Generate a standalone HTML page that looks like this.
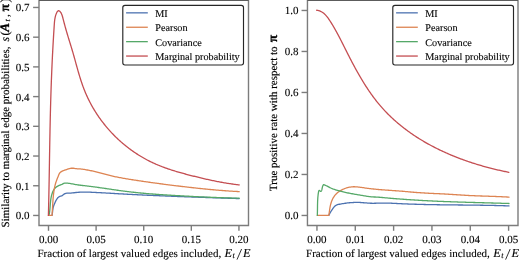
<!DOCTYPE html>
<html><head><meta charset="utf-8"><style>
html,body{margin:0;padding:0;background:#fff;overflow:hidden;}
svg{display:block;}
text{will-change:transform;stroke:#000;stroke-width:0.12px;text-rendering:geometricPrecision;}
.rot text{stroke-width:0.16px;will-change:auto;}
.rot text.bm{stroke-width:0.3px;}
.rot{filter:grayscale(1);}
</style></head><body>
<svg width="520" height="260" viewBox="0 0 520 260" font-family="Liberation Serif, serif" font-size="11" fill="#000">
<rect width="520" height="260" fill="#fff"/>
<g fill="none" stroke="#7c7c7c" stroke-width="1.4">
<path d="M39.0,0.4 H248.5 V225.5 H39.0 Z"/>
<path d="M307.45,0.4 H518.0 V225.5 H307.45 Z"/>
<path d="M39.0,0.4 H248.5 M307.45,0.4 H518.0" stroke="#5c5c5c" stroke-width="1.2"/>
<line x1="33.10" y1="215.46" x2="39.00" y2="215.46"/><line x1="33.10" y1="185.75" x2="39.00" y2="185.75"/><line x1="33.10" y1="156.03" x2="39.00" y2="156.03"/><line x1="33.10" y1="126.32" x2="39.00" y2="126.32"/><line x1="33.10" y1="96.60" x2="39.00" y2="96.60"/><line x1="33.10" y1="66.89" x2="39.00" y2="66.89"/><line x1="33.10" y1="37.18" x2="39.00" y2="37.18"/><line x1="33.10" y1="7.46" x2="39.00" y2="7.46"/><line x1="48.50" y1="225.50" x2="48.50" y2="230.80"/><line x1="96.11" y1="225.50" x2="96.11" y2="230.80"/><line x1="143.72" y1="225.50" x2="143.72" y2="230.80"/><line x1="191.33" y1="225.50" x2="191.33" y2="230.80"/><line x1="238.94" y1="225.50" x2="238.94" y2="230.80"/>
<line x1="301.55" y1="215.46" x2="307.45" y2="215.46"/><line x1="301.55" y1="174.46" x2="307.45" y2="174.46"/><line x1="301.55" y1="133.46" x2="307.45" y2="133.46"/><line x1="301.55" y1="92.46" x2="307.45" y2="92.46"/><line x1="301.55" y1="51.46" x2="307.45" y2="51.46"/><line x1="301.55" y1="10.46" x2="307.45" y2="10.46"/><line x1="316.95" y1="225.50" x2="316.95" y2="230.80"/><line x1="355.28" y1="225.50" x2="355.28" y2="230.80"/><line x1="393.61" y1="225.50" x2="393.61" y2="230.80"/><line x1="431.94" y1="225.50" x2="431.94" y2="230.80"/><line x1="470.27" y1="225.50" x2="470.27" y2="230.80"/><line x1="508.60" y1="225.50" x2="508.60" y2="230.80"/>
</g>
<g>
<text x="29.50" y="219.36" text-anchor="end">0.0</text><text x="29.50" y="189.65" text-anchor="end">0.1</text><text x="29.50" y="159.93" text-anchor="end">0.2</text><text x="29.50" y="130.22" text-anchor="end">0.3</text><text x="29.50" y="100.50" text-anchor="end">0.4</text><text x="29.50" y="70.79" text-anchor="end">0.5</text><text x="29.50" y="41.08" text-anchor="end">0.6</text><text x="29.50" y="11.36" text-anchor="end">0.7</text><text x="48.50" y="242.60" text-anchor="middle">0.00</text><text x="96.11" y="242.60" text-anchor="middle">0.05</text><text x="143.72" y="242.60" text-anchor="middle">0.10</text><text x="191.33" y="242.60" text-anchor="middle">0.15</text><text x="238.94" y="242.60" text-anchor="middle">0.20</text>
<text x="298.40" y="219.36" text-anchor="end">0.0</text><text x="298.40" y="178.36" text-anchor="end">0.2</text><text x="298.40" y="137.36" text-anchor="end">0.4</text><text x="298.40" y="96.36" text-anchor="end">0.6</text><text x="298.40" y="55.36" text-anchor="end">0.8</text><text x="298.40" y="14.36" text-anchor="end">1.0</text><text x="316.95" y="242.60" text-anchor="middle">0.00</text><text x="355.28" y="242.60" text-anchor="middle">0.01</text><text x="393.61" y="242.60" text-anchor="middle">0.02</text><text x="431.94" y="242.60" text-anchor="middle">0.03</text><text x="470.27" y="242.60" text-anchor="middle">0.04</text><text x="508.60" y="242.60" text-anchor="middle">0.05</text>
<text x="37.50" y="257.2">Fraction of largest valued edges included,</text><text x="224.60" y="257.1" font-style="italic" font-size="12.3">E</text><text x="232.60" y="258.3" font-style="italic" font-size="8.3">t</text><line x1="241.60" y1="249.0" x2="237.00" y2="259.6" stroke="#000" stroke-width="0.8"/><text x="242.90" y="257.1" font-style="italic" font-size="12.3">E</text><text x="306.10" y="257.2">Fraction of largest valued edges included,</text><text x="493.20" y="257.1" font-style="italic" font-size="12.3">E</text><text x="501.20" y="258.3" font-style="italic" font-size="8.3">t</text><line x1="510.20" y1="249.0" x2="505.60" y2="259.6" stroke="#000" stroke-width="0.8"/><text x="511.50" y="257.1" font-style="italic" font-size="12.3">E</text>
<g transform="translate(8.5,0) rotate(-90)" class="rot"><text x="-227.4" y="0">Similarity to marginal edge probabilities,</text><text x="-41.6" y="0" font-style="italic" font-size="11.8">s</text><text x="-35.6" y="0.4" font-size="12.5">(</text><text x="-31.7" y="0" class="bm" font-weight="bold" font-style="italic" font-size="13.2">A</text><text x="-21.4" y="1.8" font-style="italic" font-size="8">t</text><text x="-17.0" y="0">,</text><text x="-11.4" y="0" class="bm" font-weight="bold" font-size="13.5">π</text><text x="-2.6" y="0.4" font-size="12.5">)</text></g>
<g transform="translate(277.1,0) rotate(-90)" class="rot"><text x="-191.1" y="0">True positive rate with respect to</text><text x="-42.3" y="0" class="bm" font-weight="bold" font-size="13.5">π</text></g>
</g>
<path d="M52.00,215.40 L52.20,214.43 L52.36,213.44 L52.48,212.43 L52.59,211.41 L52.70,210.39 L52.83,209.37 L53.00,208.37 L53.21,207.40 L53.48,206.44 L53.80,205.51 L54.16,204.59 L54.55,203.67 L54.96,202.75 L55.38,201.81 L55.82,200.88 L56.30,199.97 L56.82,199.10 L57.41,198.29 L58.08,197.56 L58.85,196.94 L59.71,196.46 L60.68,196.14 L61.65,195.83 L62.52,195.33 L63.31,194.70 L64.11,194.07 L64.97,193.58 L65.92,193.31 L66.94,193.21 L67.98,193.19 L69.01,193.16 L70.02,193.11 L71.02,193.04 L72.02,192.96 L73.01,192.86 L74.01,192.75 L75.01,192.64 L76.01,192.52 L77.02,192.41 L78.02,192.31 L79.03,192.23 L80.04,192.17 L81.04,192.12 L82.05,192.09 L83.06,192.08 L84.07,192.08 L85.07,192.09 L86.08,192.11 L87.09,192.13 L88.10,192.16 L89.10,192.19 L90.11,192.22 L91.12,192.26 L92.13,192.30 L93.13,192.34 L94.14,192.39 L95.15,192.43 L96.16,192.48 L97.16,192.53 L98.17,192.58 L99.18,192.63 L100.18,192.69 L101.19,192.74 L102.20,192.80 L103.20,192.86 L104.21,192.91 L105.22,192.97 L106.22,193.03 L107.23,193.09 L108.24,193.15 L109.24,193.21 L110.25,193.27 L111.26,193.33 L112.26,193.39 L113.27,193.45 L114.28,193.51 L115.28,193.57 L116.29,193.63 L117.30,193.68 L118.30,193.74 L119.31,193.80 L120.32,193.85 L121.32,193.91 L122.33,193.96 L123.34,194.02 L124.34,194.07 L125.35,194.13 L126.36,194.18 L127.37,194.24 L128.37,194.29 L129.38,194.34 L130.39,194.39 L131.39,194.45 L132.40,194.50 L133.41,194.55 L134.41,194.60 L135.42,194.65 L136.43,194.70 L137.43,194.75 L138.44,194.80 L139.45,194.85 L140.46,194.90 L141.46,194.94 L142.47,194.99 L143.48,195.04 L144.48,195.09 L145.49,195.13 L146.50,195.18 L147.51,195.23 L148.51,195.27 L149.52,195.32 L150.53,195.36 L151.53,195.41 L152.54,195.45 L153.55,195.50 L154.56,195.54 L155.56,195.58 L156.57,195.63 L157.58,195.67 L158.59,195.71 L159.59,195.76 L160.60,195.80 L161.61,195.84 L162.61,195.88 L163.62,195.92 L164.63,195.96 L165.64,196.01 L166.64,196.05 L167.65,196.09 L168.66,196.13 L169.67,196.17 L170.67,196.21 L171.68,196.25 L172.69,196.29 L173.70,196.33 L174.71,196.36 L175.71,196.40 L176.72,196.44 L177.73,196.48 L178.74,196.52 L179.74,196.56 L180.75,196.59 L181.76,196.63 L182.77,196.67 L183.77,196.71 L184.78,196.74 L185.79,196.78 L186.80,196.82 L187.80,196.85 L188.81,196.89 L189.82,196.92 L190.83,196.96 L191.84,197.00 L192.84,197.03 L193.85,197.07 L194.86,197.10 L195.87,197.14 L196.87,197.17 L197.88,197.21 L198.89,197.24 L199.90,197.28 L200.91,197.31 L201.91,197.35 L202.92,197.38 L203.93,197.42 L204.94,197.45 L205.94,197.49 L206.95,197.52 L207.96,197.56 L208.97,197.59 L209.98,197.62 L210.98,197.66 L211.99,197.69 L213.00,197.73 L214.01,197.76 L215.01,197.79 L216.02,197.83 L217.03,197.86 L218.04,197.89 L219.05,197.93 L220.05,197.96 L221.06,197.99 L222.07,198.03 L223.08,198.06 L224.08,198.10 L225.09,198.13 L226.10,198.16 L227.11,198.20 L228.12,198.23 L229.12,198.26 L230.13,198.30 L231.14,198.33 L232.15,198.36 L233.15,198.40 L234.16,198.43 L235.17,198.46 L236.18,198.50 L237.18,198.53 L238.19,198.57 L239.20,198.60" fill="none" stroke="#4C72B0" stroke-width="1.3" stroke-linejoin="round" stroke-linecap="round"/><path d="M49.00,215.40 L49.20,214.41 L49.38,213.42 L49.54,212.43 L49.67,211.43 L49.79,210.42 L49.89,209.42 L49.98,208.42 L50.06,207.41 L50.14,206.40 L50.22,205.39 L50.29,204.39 L50.38,203.38 L50.47,202.38 L50.57,201.37 L50.68,200.37 L50.81,199.38 L50.96,198.39 L51.14,197.40 L51.34,196.42 L51.57,195.44 L51.84,194.47 L52.14,193.50 L52.48,192.54 L52.86,191.60 L53.29,190.68 L53.79,189.80 L54.34,188.97 L54.97,188.20 L55.68,187.50 L56.46,186.88 L57.33,186.35 L58.24,185.88 L59.18,185.47 L60.11,185.09 L61.03,184.72 L61.94,184.31 L62.83,183.86 L63.73,183.43 L64.68,183.17 L65.68,183.08 L66.69,183.11 L67.71,183.18 L68.71,183.29 L69.71,183.44 L70.71,183.60 L71.69,183.79 L72.68,183.98 L73.67,184.18 L74.65,184.37 L75.64,184.55 L76.63,184.71 L77.63,184.86 L78.62,185.00 L79.62,185.13 L80.62,185.25 L81.62,185.37 L82.62,185.48 L83.63,185.59 L84.63,185.70 L85.63,185.81 L86.63,185.93 L87.63,186.05 L88.63,186.17 L89.63,186.29 L90.63,186.42 L91.63,186.54 L92.63,186.67 L93.63,186.81 L94.63,186.94 L95.63,187.08 L96.63,187.21 L97.63,187.35 L98.63,187.49 L99.62,187.63 L100.62,187.78 L101.62,187.92 L102.62,188.06 L103.61,188.21 L104.61,188.35 L105.61,188.50 L106.61,188.65 L107.60,188.79 L108.60,188.94 L109.60,189.08 L110.59,189.23 L111.59,189.38 L112.59,189.52 L113.59,189.67 L114.58,189.81 L115.58,189.95 L116.58,190.10 L117.58,190.24 L118.57,190.38 L119.57,190.52 L120.57,190.65 L121.57,190.79 L122.57,190.92 L123.57,191.06 L124.57,191.19 L125.56,191.32 L126.56,191.44 L127.56,191.56 L128.56,191.69 L129.56,191.81 L130.56,191.92 L131.57,192.04 L132.57,192.15 L133.57,192.26 L134.57,192.37 L135.57,192.48 L136.57,192.58 L137.58,192.68 L138.58,192.78 L139.58,192.88 L140.58,192.98 L141.59,193.07 L142.59,193.17 L143.59,193.26 L144.60,193.35 L145.60,193.44 L146.61,193.53 L147.61,193.61 L148.61,193.70 L149.62,193.78 L150.62,193.86 L151.63,193.94 L152.63,194.02 L153.64,194.09 L154.64,194.17 L155.65,194.25 L156.65,194.32 L157.66,194.39 L158.67,194.46 L159.67,194.53 L160.68,194.60 L161.68,194.67 L162.69,194.74 L163.70,194.80 L164.70,194.87 L165.71,194.93 L166.71,195.00 L167.72,195.06 L168.73,195.12 L169.73,195.18 L170.74,195.25 L171.74,195.31 L172.75,195.37 L173.76,195.43 L174.76,195.48 L175.77,195.54 L176.78,195.60 L177.78,195.66 L178.79,195.72 L179.80,195.77 L180.80,195.83 L181.81,195.89 L182.81,195.94 L183.82,196.00 L184.83,196.05 L185.83,196.11 L186.84,196.16 L187.85,196.22 L188.85,196.27 L189.86,196.32 L190.86,196.37 L191.87,196.43 L192.88,196.48 L193.88,196.53 L194.89,196.58 L195.90,196.63 L196.90,196.68 L197.91,196.73 L198.91,196.78 L199.92,196.82 L200.93,196.87 L201.93,196.92 L202.94,196.96 L203.95,197.01 L204.95,197.05 L205.96,197.10 L206.97,197.14 L207.97,197.19 L208.98,197.23 L209.99,197.27 L210.99,197.31 L212.00,197.35 L213.01,197.39 L214.01,197.43 L215.02,197.47 L216.03,197.51 L217.03,197.55 L218.04,197.59 L219.05,197.62 L220.05,197.66 L221.06,197.69 L222.07,197.73 L223.08,197.76 L224.08,197.79 L225.09,197.83 L226.10,197.86 L227.11,197.89 L228.11,197.92 L229.12,197.95 L230.13,197.98 L231.14,198.00 L232.14,198.03 L233.15,198.06 L234.16,198.08 L235.17,198.11 L236.18,198.13 L237.18,198.16 L238.19,198.18 L239.20,198.20" fill="none" stroke="#55A868" stroke-width="1.3" stroke-linejoin="round" stroke-linecap="round"/><path d="M48.40,215.40 L52.00,215.40 L52.09,214.40 L52.17,213.40 L52.24,212.40 L52.31,211.40 L52.37,210.39 L52.43,209.39 L52.49,208.39 L52.55,207.38 L52.61,206.38 L52.66,205.38 L52.72,204.37 L52.78,203.37 L52.84,202.37 L52.90,201.36 L52.97,200.36 L53.05,199.36 L53.12,198.36 L53.21,197.36 L53.30,196.36 L53.40,195.36 L53.51,194.36 L53.63,193.36 L53.76,192.36 L53.90,191.37 L54.05,190.38 L54.22,189.39 L54.40,188.40 L54.59,187.41 L54.81,186.43 L55.04,185.45 L55.28,184.48 L55.55,183.51 L55.84,182.56 L56.15,181.60 L56.48,180.66 L56.83,179.73 L57.20,178.79 L57.58,177.86 L57.96,176.92 L58.33,175.96 L58.70,174.99 L59.10,174.05 L59.60,173.20 L60.22,172.47 L60.96,171.86 L61.79,171.34 L62.70,170.90 L63.65,170.52 L64.62,170.17 L65.59,169.84 L66.55,169.52 L67.51,169.19 L68.46,168.87 L69.42,168.57 L70.39,168.34 L71.36,168.23 L72.35,168.21 L73.34,168.27 L74.34,168.38 L75.35,168.53 L76.35,168.67 L77.35,168.80 L78.35,168.89 L79.35,168.93 L80.34,168.97 L81.33,169.04 L82.32,169.16 L83.31,169.31 L84.30,169.48 L85.29,169.65 L86.28,169.82 L87.27,169.99 L88.26,170.17 L89.25,170.36 L90.24,170.55 L91.22,170.74 L92.21,170.95 L93.19,171.17 L94.17,171.39 L95.14,171.63 L96.12,171.87 L97.09,172.12 L98.06,172.38 L99.03,172.64 L100.00,172.91 L100.97,173.17 L101.94,173.44 L102.91,173.71 L103.88,173.97 L104.85,174.23 L105.82,174.49 L106.79,174.74 L107.76,174.99 L108.74,175.23 L109.72,175.46 L110.69,175.69 L111.67,175.92 L112.65,176.14 L113.63,176.35 L114.61,176.56 L115.59,176.77 L116.58,176.97 L117.56,177.16 L118.55,177.36 L119.53,177.55 L120.52,177.73 L121.51,177.92 L122.50,178.10 L123.49,178.27 L124.47,178.44 L125.46,178.62 L126.45,178.78 L127.45,178.95 L128.44,179.11 L129.43,179.27 L130.42,179.43 L131.41,179.59 L132.41,179.75 L133.40,179.90 L134.39,180.05 L135.39,180.21 L136.38,180.36 L137.37,180.51 L138.37,180.66 L139.36,180.81 L140.35,180.95 L141.35,181.10 L142.34,181.25 L143.34,181.39 L144.33,181.54 L145.33,181.68 L146.32,181.83 L147.31,181.97 L148.31,182.11 L149.30,182.25 L150.30,182.39 L151.29,182.53 L152.29,182.67 L153.28,182.81 L154.28,182.94 L155.27,183.08 L156.27,183.22 L157.26,183.35 L158.26,183.48 L159.26,183.62 L160.25,183.75 L161.25,183.88 L162.24,184.01 L163.24,184.14 L164.23,184.27 L165.23,184.40 L166.23,184.53 L167.22,184.66 L168.22,184.79 L169.22,184.91 L170.21,185.04 L171.21,185.16 L172.21,185.29 L173.20,185.41 L174.20,185.53 L175.20,185.65 L176.19,185.78 L177.19,185.90 L178.19,186.02 L179.18,186.14 L180.18,186.26 L181.18,186.37 L182.18,186.49 L183.18,186.61 L184.17,186.72 L185.17,186.84 L186.17,186.95 L187.17,187.07 L188.16,187.18 L189.16,187.29 L190.16,187.41 L191.16,187.52 L192.16,187.63 L193.16,187.74 L194.16,187.85 L195.15,187.96 L196.15,188.07 L197.15,188.17 L198.15,188.28 L199.15,188.39 L200.15,188.49 L201.15,188.60 L202.15,188.70 L203.15,188.80 L204.15,188.90 L205.15,189.00 L206.15,189.10 L207.15,189.20 L208.15,189.30 L209.15,189.39 L210.15,189.49 L211.15,189.58 L212.15,189.67 L213.15,189.76 L214.15,189.85 L215.15,189.94 L216.15,190.03 L217.15,190.11 L218.15,190.20 L219.15,190.28 L220.15,190.36 L221.16,190.44 L222.16,190.52 L223.16,190.60 L224.16,190.67 L225.16,190.75 L226.16,190.82 L227.17,190.89 L228.17,190.96 L229.17,191.03 L230.17,191.09 L231.18,191.16 L232.18,191.22 L233.18,191.28 L234.18,191.34 L235.19,191.39 L236.19,191.45 L237.19,191.50 L238.20,191.55 L239.20,191.60" fill="none" stroke="#DD8452" stroke-width="1.3" stroke-linejoin="round" stroke-linecap="round"/><path d="M48.40,215.40 L48.43,214.40 L48.45,213.40 L48.48,212.39 L48.50,211.39 L48.53,210.39 L48.55,209.39 L48.58,208.38 L48.60,207.38 L48.62,206.38 L48.65,205.38 L48.67,204.37 L48.69,203.37 L48.71,202.37 L48.74,201.37 L48.76,200.37 L48.78,199.36 L48.80,198.36 L48.82,197.36 L48.84,196.36 L48.86,195.36 L48.88,194.35 L48.90,193.35 L48.92,192.35 L48.94,191.35 L48.96,190.35 L48.98,189.34 L49.00,188.34 L49.02,187.34 L49.04,186.34 L49.06,185.34 L49.07,184.33 L49.09,183.33 L49.11,182.33 L49.13,181.33 L49.15,180.33 L49.16,179.32 L49.18,178.32 L49.20,177.32 L49.22,176.32 L49.23,175.32 L49.25,174.31 L49.27,173.31 L49.29,172.31 L49.30,171.31 L49.32,170.31 L49.34,169.30 L49.35,168.30 L49.37,167.30 L49.39,166.30 L49.40,165.30 L49.42,164.29 L49.44,163.29 L49.45,162.29 L49.47,161.29 L49.49,160.29 L49.50,159.29 L49.52,158.28 L49.53,157.28 L49.55,156.28 L49.57,155.28 L49.58,154.28 L49.60,153.27 L49.62,152.27 L49.64,151.27 L49.65,150.27 L49.67,149.27 L49.69,148.26 L49.70,147.26 L49.72,146.26 L49.74,145.26 L49.76,144.26 L49.77,143.26 L49.79,142.25 L49.81,141.25 L49.83,140.25 L49.84,139.25 L49.86,138.25 L49.88,137.24 L49.90,136.24 L49.92,135.24 L49.94,134.24 L49.96,133.24 L49.98,132.23 L49.99,131.23 L50.01,130.23 L50.03,129.23 L50.05,128.23 L50.07,127.23 L50.10,126.22 L50.12,125.22 L50.14,124.22 L50.16,123.22 L50.18,122.22 L50.20,121.21 L50.22,120.21 L50.25,119.21 L50.27,118.21 L50.29,117.21 L50.31,116.20 L50.34,115.20 L50.36,114.20 L50.39,113.20 L50.41,112.20 L50.43,111.19 L50.46,110.19 L50.49,109.19 L50.51,108.19 L50.54,107.18 L50.56,106.18 L50.59,105.18 L50.62,104.18 L50.65,103.18 L50.67,102.17 L50.70,101.17 L50.73,100.17 L50.76,99.17 L50.79,98.16 L50.82,97.16 L50.85,96.16 L50.88,95.16 L50.91,94.16 L50.94,93.15 L50.98,92.15 L51.01,91.15 L51.04,90.15 L51.08,89.14 L51.11,88.14 L51.14,87.14 L51.18,86.14 L51.22,85.13 L51.25,84.13 L51.29,83.13 L51.32,82.13 L51.36,81.12 L51.40,80.12 L51.44,79.12 L51.48,78.12 L51.52,77.12 L51.56,76.11 L51.60,75.11 L51.64,74.11 L51.68,73.11 L51.72,72.11 L51.76,71.10 L51.81,70.10 L51.85,69.10 L51.89,68.10 L51.94,67.10 L51.98,66.10 L52.03,65.10 L52.07,64.09 L52.12,63.09 L52.16,62.09 L52.21,61.09 L52.26,60.09 L52.31,59.09 L52.36,58.09 L52.41,57.09 L52.45,56.09 L52.50,55.09 L52.55,54.09 L52.61,53.09 L52.66,52.10 L52.71,51.10 L52.76,50.10 L52.81,49.10 L52.87,48.10 L52.92,47.10 L52.98,46.11 L53.03,45.11 L53.09,44.11 L53.14,43.11 L53.20,42.11 L53.26,41.12 L53.31,40.12 L53.37,39.12 L53.43,38.12 L53.49,37.12 L53.55,36.12 L53.61,35.12 L53.67,34.12 L53.73,33.12 L53.80,32.11 L53.86,31.11 L53.92,30.11 L53.99,29.10 L54.06,28.10 L54.12,27.09 L54.19,26.08 L54.26,25.07 L54.33,24.06 L54.40,23.05 L54.48,22.05 L54.58,21.04 L54.70,20.03 L54.84,19.03 L55.01,18.04 L55.21,17.05 L55.45,16.07 L55.74,15.10 L56.08,14.13 L56.47,13.18 L56.92,12.25 L57.44,11.43 L58.02,10.87 L58.68,10.72 L59.38,10.99 L60.08,11.57 L60.70,12.34 L61.23,13.21 L61.68,14.16 L62.06,15.17 L62.39,16.22 L62.69,17.27 L62.96,18.32 L63.23,19.34 L63.49,20.34 L63.75,21.33 L64.00,22.30 L64.25,23.27 L64.50,24.23 L64.75,25.18 L65.01,26.13 L65.27,27.09 L65.54,28.04 L65.81,28.99 L66.08,29.95 L66.36,30.90 L66.63,31.85 L66.91,32.80 L67.20,33.76 L67.48,34.71 L67.77,35.66 L68.06,36.62 L68.35,37.57 L68.64,38.52 L68.93,39.48 L69.23,40.43 L69.52,41.38 L69.81,42.34 L70.11,43.29 L70.40,44.25 L70.69,45.21 L70.99,46.16 L71.28,47.12 L71.57,48.08 L71.86,49.04 L72.15,50.00 L72.43,50.97 L72.72,51.93 L73.00,52.89 L73.28,53.86 L73.55,54.82 L73.83,55.79 L74.10,56.76 L74.37,57.73 L74.64,58.70 L74.91,59.67 L75.18,60.64 L75.45,61.61 L75.72,62.58 L75.98,63.55 L76.25,64.52 L76.52,65.49 L76.79,66.46 L77.06,67.43 L77.33,68.40 L77.61,69.37 L77.88,70.34 L78.16,71.31 L78.44,72.28 L78.72,73.24 L79.00,74.21 L79.29,75.17 L79.58,76.14 L79.87,77.10 L80.17,78.06 L80.47,79.02 L80.78,79.97 L81.09,80.93 L81.40,81.88 L81.72,82.83 L82.05,83.78 L82.38,84.73 L82.71,85.67 L83.05,86.61 L83.40,87.55 L83.76,88.49 L84.12,89.43 L84.49,90.36 L84.86,91.28 L85.25,92.21 L85.63,93.13 L86.03,94.05 L86.44,94.97 L86.85,95.88 L87.26,96.79 L87.69,97.70 L88.12,98.60 L88.56,99.50 L89.00,100.40 L89.45,101.29 L89.91,102.18 L90.38,103.07 L90.85,103.95 L91.33,104.83 L91.81,105.71 L92.30,106.58 L92.80,107.45 L93.30,108.32 L93.81,109.18 L94.33,110.04 L94.85,110.89 L95.38,111.74 L95.92,112.59 L96.46,113.43 L97.01,114.27 L97.56,115.10 L98.12,115.93 L98.69,116.76 L99.26,117.58 L99.84,118.40 L100.42,119.21 L101.01,120.02 L101.61,120.82 L102.21,121.62 L102.82,122.42 L103.43,123.21 L104.05,124.00 L104.68,124.78 L105.31,125.56 L105.94,126.34 L106.58,127.10 L107.23,127.87 L107.88,128.63 L108.54,129.38 L109.21,130.13 L109.87,130.88 L110.55,131.62 L111.23,132.36 L111.91,133.09 L112.60,133.81 L113.30,134.53 L114.00,135.25 L114.71,135.96 L115.42,136.67 L116.13,137.37 L116.85,138.06 L117.58,138.75 L118.31,139.43 L119.05,140.11 L119.79,140.79 L120.53,141.46 L121.28,142.12 L122.04,142.78 L122.80,143.43 L123.56,144.07 L124.33,144.71 L125.11,145.35 L125.89,145.98 L126.67,146.60 L127.46,147.22 L128.25,147.83 L129.05,148.44 L129.85,149.04 L130.65,149.63 L131.46,150.22 L132.28,150.80 L133.09,151.38 L133.92,151.95 L134.74,152.51 L135.57,153.07 L136.41,153.62 L137.25,154.16 L138.09,154.70 L138.94,155.23 L139.79,155.76 L140.64,156.28 L141.50,156.79 L142.37,157.30 L143.23,157.80 L144.10,158.29 L144.98,158.78 L145.85,159.26 L146.74,159.73 L147.62,160.20 L148.51,160.66 L149.40,161.11 L150.30,161.56 L151.20,162.00 L152.10,162.43 L153.01,162.85 L153.92,163.27 L154.83,163.68 L155.74,164.09 L156.66,164.48 L157.59,164.88 L158.51,165.26 L159.44,165.64 L160.37,166.01 L161.30,166.38 L162.24,166.74 L163.18,167.09 L164.12,167.44 L165.06,167.79 L166.01,168.13 L166.95,168.46 L167.90,168.79 L168.86,169.11 L169.81,169.43 L170.76,169.75 L171.72,170.06 L172.68,170.36 L173.64,170.66 L174.60,170.96 L175.57,171.25 L176.53,171.54 L177.50,171.83 L178.46,172.11 L179.43,172.39 L180.40,172.66 L181.37,172.94 L182.34,173.21 L183.31,173.47 L184.28,173.74 L185.25,174.00 L186.23,174.26 L187.20,174.51 L188.17,174.77 L189.15,175.02 L190.12,175.27 L191.09,175.52 L192.07,175.76 L193.04,176.01 L194.01,176.25 L194.98,176.49 L195.96,176.73 L196.93,176.97 L197.90,177.21 L198.87,177.44 L199.84,177.68 L200.82,177.91 L201.79,178.14 L202.76,178.37 L203.73,178.60 L204.70,178.82 L205.68,179.04 L206.65,179.26 L207.62,179.48 L208.60,179.69 L209.57,179.91 L210.55,180.12 L211.52,180.32 L212.50,180.53 L213.47,180.73 L214.45,180.93 L215.43,181.13 L216.41,181.33 L217.38,181.52 L218.36,181.71 L219.34,181.89 L220.33,182.08 L221.31,182.26 L222.29,182.43 L223.28,182.61 L224.26,182.78 L225.25,182.94 L226.24,183.11 L227.22,183.27 L228.21,183.42 L229.21,183.58 L230.20,183.73 L231.19,183.87 L232.19,184.01 L233.19,184.15 L234.18,184.29 L235.18,184.42 L236.19,184.54 L237.19,184.67 L238.19,184.79 L239.20,184.90" fill="none" stroke="#C44E52" stroke-width="1.3" stroke-linejoin="round" stroke-linecap="round"/>
<path d="M328.80,215.40 L329.22,214.49 L329.68,213.60 L330.18,212.73 L330.70,211.86 L331.25,211.01 L331.81,210.15 L332.38,209.29 L332.96,208.44 L333.56,207.60 L334.20,206.82 L334.89,206.12 L335.66,205.53 L336.50,205.07 L337.42,204.72 L338.40,204.45 L339.40,204.25 L340.42,204.07 L341.43,203.90 L342.44,203.73 L343.44,203.56 L344.44,203.40 L345.44,203.25 L346.44,203.11 L347.44,202.98 L348.44,202.86 L349.44,202.76 L350.45,202.67 L351.45,202.59 L352.46,202.53 L353.46,202.48 L354.47,202.44 L355.48,202.42 L356.49,202.41 L357.50,202.42 L358.51,202.44 L359.52,202.47 L360.53,202.52 L361.54,202.58 L362.54,202.65 L363.55,202.73 L364.56,202.81 L365.57,202.89 L366.58,202.97 L367.59,203.05 L368.60,203.12 L369.60,203.18 L370.61,203.24 L371.62,203.27 L372.63,203.29 L373.64,203.29 L374.65,203.27 L375.66,203.24 L376.67,203.21 L377.68,203.17 L378.69,203.13 L379.70,203.10 L380.71,203.07 L381.72,203.06 L382.73,203.05 L383.74,203.05 L384.75,203.06 L385.76,203.07 L386.77,203.09 L387.78,203.11 L388.79,203.14 L389.80,203.17 L390.81,203.21 L391.82,203.25 L392.83,203.29 L393.84,203.34 L394.85,203.39 L395.86,203.43 L396.87,203.48 L397.88,203.53 L398.89,203.58 L399.90,203.63 L400.91,203.68 L401.92,203.73 L402.92,203.78 L403.93,203.82 L404.94,203.86 L405.95,203.91 L406.96,203.95 L407.97,203.99 L408.98,204.03 L409.99,204.06 L411.00,204.10 L412.01,204.13 L413.02,204.17 L414.03,204.20 L415.04,204.23 L416.05,204.27 L417.06,204.30 L418.07,204.33 L419.08,204.35 L420.09,204.38 L421.10,204.41 L422.11,204.43 L423.12,204.46 L424.13,204.48 L425.15,204.51 L426.16,204.53 L427.17,204.55 L428.18,204.57 L429.19,204.59 L430.20,204.61 L431.21,204.63 L432.22,204.65 L433.23,204.67 L434.24,204.68 L435.25,204.70 L436.26,204.72 L437.27,204.73 L438.28,204.75 L439.29,204.76 L440.30,204.78 L441.31,204.79 L442.32,204.80 L443.33,204.82 L444.34,204.83 L445.35,204.84 L446.36,204.85 L447.37,204.87 L448.38,204.88 L449.39,204.89 L450.40,204.90 L451.41,204.91 L452.42,204.92 L453.43,204.93 L454.44,204.94 L455.45,204.95 L456.46,204.96 L457.47,204.97 L458.49,204.98 L459.50,204.99 L460.51,205.00 L461.52,205.01 L462.53,205.02 L463.54,205.03 L464.55,205.04 L465.56,205.05 L466.57,205.06 L467.58,205.07 L468.59,205.08 L469.60,205.09 L470.61,205.10 L471.62,205.11 L472.63,205.13 L473.64,205.14 L474.65,205.15 L475.66,205.16 L476.67,205.18 L477.68,205.19 L478.69,205.20 L479.70,205.22 L480.71,205.23 L481.72,205.24 L482.73,205.26 L483.74,205.28 L484.76,205.29 L485.77,205.31 L486.78,205.33 L487.79,205.34 L488.80,205.36 L489.81,205.38 L490.82,205.40 L491.83,205.42 L492.84,205.44 L493.85,205.47 L494.86,205.49 L495.87,205.51 L496.88,205.54 L497.89,205.56 L498.90,205.59 L499.91,205.62 L500.92,205.64 L501.93,205.67 L502.94,205.70 L503.95,205.73 L504.96,205.76 L505.97,205.80 L506.98,205.83 L507.99,205.86 L509.00,205.90" fill="none" stroke="#4C72B0" stroke-width="1.3" stroke-linejoin="round" stroke-linecap="round"/><path d="M317.30,215.40 L328.80,215.40 L328.95,214.44 L329.10,213.47 L329.24,212.48 L329.38,211.49 L329.53,210.49 L329.68,209.48 L329.84,208.47 L330.02,207.47 L330.21,206.46 L330.42,205.46 L330.66,204.47 L330.92,203.49 L331.21,202.52 L331.53,201.56 L331.88,200.62 L332.28,199.70 L332.71,198.80 L333.19,197.92 L333.71,197.07 L334.26,196.24 L334.86,195.45 L335.50,194.68 L336.18,193.95 L336.90,193.26 L337.65,192.60 L338.44,191.98 L339.27,191.40 L340.12,190.85 L340.99,190.33 L341.89,189.85 L342.80,189.40 L343.72,188.99 L344.66,188.60 L345.61,188.25 L346.57,187.93 L347.53,187.65 L348.51,187.40 L349.49,187.20 L350.47,187.03 L351.46,186.90 L352.45,186.81 L353.44,186.77 L354.44,186.76 L355.44,186.79 L356.43,186.84 L357.43,186.92 L358.43,187.03 L359.43,187.15 L360.43,187.28 L361.44,187.43 L362.44,187.58 L363.44,187.73 L364.44,187.88 L365.44,188.03 L366.44,188.17 L367.44,188.30 L368.44,188.43 L369.44,188.56 L370.44,188.68 L371.44,188.80 L372.43,188.91 L373.43,189.02 L374.43,189.12 L375.43,189.22 L376.43,189.32 L377.43,189.41 L378.43,189.50 L379.43,189.58 L380.44,189.67 L381.44,189.75 L382.44,189.82 L383.44,189.90 L384.45,189.97 L385.45,190.05 L386.45,190.12 L387.46,190.19 L388.46,190.26 L389.47,190.33 L390.47,190.39 L391.47,190.46 L392.48,190.53 L393.48,190.60 L394.49,190.67 L395.49,190.74 L396.50,190.81 L397.50,190.88 L398.50,190.96 L399.51,191.03 L400.51,191.11 L401.51,191.19 L402.52,191.27 L403.52,191.36 L404.52,191.45 L405.53,191.53 L406.53,191.62 L407.53,191.71 L408.53,191.80 L409.53,191.89 L410.54,191.98 L411.54,192.06 L412.54,192.15 L413.54,192.23 L414.55,192.32 L415.55,192.40 L416.55,192.48 L417.56,192.55 L418.56,192.63 L419.56,192.70 L420.57,192.76 L421.57,192.83 L422.57,192.89 L423.58,192.95 L424.58,193.01 L425.59,193.07 L426.59,193.13 L427.60,193.18 L428.60,193.23 L429.61,193.29 L430.61,193.34 L431.62,193.39 L432.62,193.44 L433.63,193.48 L434.63,193.53 L435.64,193.58 L436.64,193.63 L437.65,193.67 L438.65,193.72 L439.66,193.77 L440.66,193.82 L441.67,193.87 L442.67,193.92 L443.68,193.97 L444.68,194.02 L445.69,194.07 L446.69,194.13 L447.70,194.18 L448.70,194.24 L449.71,194.30 L450.71,194.36 L451.71,194.42 L452.72,194.48 L453.72,194.55 L454.73,194.61 L455.73,194.68 L456.73,194.75 L457.74,194.81 L458.74,194.88 L459.75,194.95 L460.75,195.01 L461.75,195.08 L462.76,195.14 L463.76,195.20 L464.77,195.26 L465.77,195.32 L466.78,195.38 L467.78,195.43 L468.79,195.48 L469.79,195.53 L470.80,195.58 L471.80,195.62 L472.81,195.67 L473.81,195.71 L474.82,195.75 L475.82,195.79 L476.83,195.83 L477.83,195.87 L478.84,195.91 L479.84,195.94 L480.85,195.98 L481.85,196.01 L482.86,196.05 L483.87,196.08 L484.87,196.11 L485.88,196.15 L486.88,196.18 L487.89,196.21 L488.89,196.25 L489.90,196.28 L490.91,196.31 L491.91,196.35 L492.92,196.38 L493.92,196.42 L494.93,196.45 L495.93,196.49 L496.94,196.53 L497.95,196.57 L498.95,196.61 L499.96,196.65 L500.96,196.69 L501.97,196.74 L502.97,196.78 L503.98,196.83 L504.98,196.88 L505.99,196.93 L506.99,196.99 L508.00,197.04 L509.00,197.10" fill="none" stroke="#DD8452" stroke-width="1.3" stroke-linejoin="round" stroke-linecap="round"/><path d="M317.30,215.40 L317.35,214.34 L317.38,213.28 L317.41,212.21 L317.44,211.15 L317.46,210.09 L317.47,209.02 L317.49,207.96 L317.50,206.89 L317.51,205.83 L317.53,204.76 L317.55,203.70 L317.58,202.63 L317.62,201.57 L317.66,200.51 L317.72,199.45 L317.78,198.38 L317.86,197.32 L317.96,196.27 L318.07,195.21 L318.19,194.15 L318.34,193.10 L318.51,192.05 L318.70,191.00 L319.00,190.52 L319.29,190.38 L319.57,190.49 L319.86,190.73 L320.16,191.03 L320.47,191.28 L320.79,191.39 L321.14,191.26 L321.50,190.80 L321.75,190.14 L321.93,189.44 L322.07,188.73 L322.20,188.01 L322.34,187.30 L322.51,186.60 L322.75,185.92 L323.07,185.29 L323.50,184.70 L324.48,184.97 L325.42,185.31 L326.34,185.72 L327.24,186.16 L328.13,186.64 L329.02,187.11 L329.91,187.58 L330.82,188.01 L331.74,188.42 L332.67,188.79 L333.61,189.14 L334.56,189.47 L335.52,189.79 L336.48,190.09 L337.44,190.38 L338.40,190.67 L339.37,190.94 L340.34,191.20 L341.32,191.45 L342.30,191.69 L343.28,191.93 L344.26,192.16 L345.24,192.38 L346.23,192.59 L347.22,192.79 L348.20,192.99 L349.20,193.19 L350.19,193.38 L351.18,193.56 L352.18,193.75 L353.17,193.92 L354.17,194.10 L355.16,194.27 L356.16,194.44 L357.16,194.61 L358.15,194.77 L359.15,194.94 L360.14,195.11 L361.14,195.27 L362.13,195.44 L363.13,195.61 L364.12,195.78 L365.11,195.95 L366.10,196.12 L367.09,196.29 L368.08,196.44 L369.08,196.58 L370.07,196.70 L371.07,196.80 L372.08,196.88 L373.08,196.93 L374.09,196.98 L375.10,197.02 L376.11,197.07 L377.12,197.12 L378.13,197.18 L379.13,197.25 L380.14,197.33 L381.14,197.42 L382.14,197.51 L383.15,197.60 L384.15,197.69 L385.15,197.78 L386.16,197.88 L387.16,197.97 L388.16,198.06 L389.17,198.14 L390.17,198.23 L391.18,198.32 L392.18,198.40 L393.19,198.49 L394.19,198.57 L395.20,198.65 L396.20,198.73 L397.20,198.81 L398.21,198.89 L399.22,198.97 L400.22,199.05 L401.23,199.13 L402.23,199.20 L403.24,199.27 L404.24,199.35 L405.25,199.42 L406.25,199.49 L407.26,199.56 L408.27,199.63 L409.27,199.70 L410.28,199.77 L411.28,199.83 L412.29,199.90 L413.30,199.96 L414.30,200.02 L415.31,200.09 L416.32,200.15 L417.32,200.21 L418.33,200.27 L419.33,200.33 L420.34,200.38 L421.35,200.44 L422.35,200.50 L423.36,200.55 L424.37,200.61 L425.37,200.66 L426.38,200.71 L427.39,200.76 L428.39,200.81 L429.40,200.86 L430.41,200.91 L431.42,200.96 L432.42,201.01 L433.43,201.06 L434.44,201.10 L435.44,201.15 L436.45,201.19 L437.46,201.24 L438.47,201.28 L439.47,201.32 L440.48,201.36 L441.49,201.41 L442.49,201.45 L443.50,201.49 L444.51,201.53 L445.52,201.57 L446.52,201.60 L447.53,201.64 L448.54,201.68 L449.55,201.72 L450.55,201.75 L451.56,201.79 L452.57,201.82 L453.58,201.86 L454.58,201.89 L455.59,201.93 L456.60,201.96 L457.61,202.00 L458.61,202.03 L459.62,202.06 L460.63,202.09 L461.64,202.13 L462.64,202.16 L463.65,202.19 L464.66,202.22 L465.67,202.25 L466.67,202.28 L467.68,202.31 L468.69,202.34 L469.70,202.37 L470.71,202.40 L471.71,202.43 L472.72,202.46 L473.73,202.49 L474.74,202.52 L475.74,202.55 L476.75,202.57 L477.76,202.60 L478.77,202.63 L479.78,202.66 L480.78,202.69 L481.79,202.71 L482.80,202.74 L483.81,202.77 L484.81,202.80 L485.82,202.83 L486.83,202.85 L487.84,202.88 L488.85,202.91 L489.85,202.94 L490.86,202.97 L491.87,202.99 L492.88,203.02 L493.88,203.05 L494.89,203.08 L495.90,203.11 L496.91,203.14 L497.92,203.17 L498.92,203.20 L499.93,203.22 L500.94,203.25 L501.95,203.28 L502.95,203.31 L503.96,203.34 L504.97,203.38 L505.98,203.41 L506.98,203.44 L507.99,203.47 L509.00,203.50" fill="none" stroke="#55A868" stroke-width="1.3" stroke-linejoin="round" stroke-linecap="round"/><path d="M316.70,10.25 L317.73,10.40 L318.72,10.63 L319.66,10.93 L320.56,11.30 L321.42,11.73 L322.24,12.21 L323.02,12.75 L323.78,13.34 L324.50,13.97 L325.20,14.65 L325.87,15.36 L326.52,16.10 L327.15,16.87 L327.75,17.66 L328.35,18.47 L328.92,19.30 L329.49,20.14 L330.04,20.99 L330.59,21.84 L331.13,22.69 L331.66,23.55 L332.19,24.41 L332.71,25.27 L333.23,26.13 L333.74,26.99 L334.24,27.86 L334.74,28.73 L335.23,29.60 L335.72,30.47 L336.21,31.35 L336.69,32.22 L337.17,33.10 L337.64,33.98 L338.11,34.86 L338.58,35.74 L339.04,36.63 L339.50,37.51 L339.96,38.40 L340.42,39.28 L340.87,40.17 L341.32,41.06 L341.78,41.95 L342.23,42.84 L342.68,43.74 L343.12,44.63 L343.57,45.53 L344.02,46.42 L344.47,47.32 L344.92,48.21 L345.37,49.11 L345.82,50.01 L346.27,50.91 L346.72,51.81 L347.18,52.70 L347.63,53.60 L348.09,54.50 L348.55,55.40 L349.01,56.30 L349.47,57.20 L349.93,58.10 L350.40,59.00 L350.86,59.90 L351.33,60.79 L351.80,61.69 L352.27,62.59 L352.75,63.48 L353.22,64.38 L353.70,65.27 L354.18,66.17 L354.66,67.06 L355.15,67.95 L355.63,68.84 L356.12,69.73 L356.62,70.62 L357.11,71.51 L357.61,72.39 L358.11,73.28 L358.61,74.16 L359.11,75.04 L359.62,75.92 L360.13,76.79 L360.64,77.67 L361.16,78.54 L361.68,79.41 L362.20,80.28 L362.73,81.15 L363.25,82.01 L363.79,82.87 L364.32,83.73 L364.86,84.59 L365.40,85.44 L365.95,86.29 L366.50,87.14 L367.05,87.98 L367.60,88.82 L368.16,89.66 L368.73,90.50 L369.30,91.33 L369.87,92.16 L370.44,92.99 L371.02,93.81 L371.60,94.63 L372.19,95.44 L372.78,96.25 L373.38,97.06 L373.98,97.87 L374.58,98.67 L375.19,99.46 L375.81,100.25 L376.42,101.04 L377.05,101.82 L377.67,102.60 L378.31,103.38 L378.94,104.15 L379.58,104.91 L380.23,105.67 L380.88,106.43 L381.54,107.18 L382.20,107.92 L382.86,108.67 L383.53,109.40 L384.21,110.13 L384.89,110.86 L385.57,111.59 L386.26,112.30 L386.95,113.02 L387.65,113.73 L388.35,114.43 L389.06,115.13 L389.77,115.83 L390.49,116.52 L391.21,117.20 L391.93,117.88 L392.66,118.56 L393.39,119.23 L394.13,119.90 L394.87,120.57 L395.62,121.23 L396.37,121.88 L397.12,122.53 L397.88,123.18 L398.64,123.82 L399.40,124.46 L400.17,125.09 L400.94,125.72 L401.72,126.34 L402.50,126.96 L403.28,127.57 L404.07,128.19 L404.86,128.79 L405.66,129.39 L406.46,129.99 L407.26,130.59 L408.07,131.17 L408.87,131.76 L409.69,132.34 L410.50,132.92 L411.32,133.49 L412.15,134.06 L412.97,134.62 L413.80,135.18 L414.63,135.73 L415.47,136.29 L416.31,136.83 L417.15,137.38 L418.00,137.91 L418.84,138.45 L419.69,138.98 L420.55,139.51 L421.41,140.03 L422.27,140.55 L423.13,141.06 L423.99,141.57 L424.86,142.08 L425.73,142.58 L426.61,143.08 L427.48,143.57 L428.36,144.06 L429.24,144.54 L430.13,145.03 L431.02,145.50 L431.90,145.98 L432.80,146.45 L433.69,146.91 L434.59,147.38 L435.49,147.83 L436.39,148.29 L437.29,148.74 L438.20,149.19 L439.10,149.63 L440.01,150.07 L440.93,150.50 L441.84,150.93 L442.76,151.36 L443.67,151.78 L444.59,152.20 L445.52,152.62 L446.44,153.03 L447.37,153.44 L448.29,153.85 L449.22,154.25 L450.15,154.64 L451.09,155.04 L452.02,155.43 L452.96,155.81 L453.90,156.20 L454.84,156.57 L455.78,156.95 L456.72,157.32 L457.66,157.69 L458.61,158.05 L459.55,158.41 L460.50,158.77 L461.45,159.12 L462.40,159.47 L463.35,159.82 L464.31,160.16 L465.26,160.50 L466.22,160.84 L467.17,161.17 L468.13,161.50 L469.09,161.82 L470.05,162.15 L471.01,162.46 L471.97,162.78 L472.93,163.09 L473.89,163.40 L474.86,163.70 L475.82,164.00 L476.79,164.30 L477.75,164.60 L478.72,164.89 L479.69,165.17 L480.66,165.46 L481.62,165.74 L482.59,166.02 L483.56,166.29 L484.53,166.56 L485.50,166.83 L486.47,167.09 L487.44,167.36 L488.41,167.61 L489.38,167.87 L490.36,168.12 L491.33,168.37 L492.30,168.61 L493.27,168.85 L494.24,169.09 L495.21,169.33 L496.19,169.56 L497.16,169.79 L498.13,170.02 L499.10,170.24 L500.07,170.46 L501.04,170.68 L502.01,170.89 L502.98,171.10 L503.95,171.31 L504.92,171.51 L505.89,171.71 L506.86,171.91 L507.83,172.11 L508.80,172.30" fill="none" stroke="#C44E52" stroke-width="1.3" stroke-linejoin="round" stroke-linecap="round"/>
<rect x="122.80" y="5.3" width="120.7" height="59.7" rx="2.2" ry="2.2" fill="#fff" stroke="#262626" stroke-width="1.15"/><line x1="126.10" y1="12.85" x2="147.80" y2="12.85" stroke="#4C72B0" stroke-width="1.3"/><text x="155.30" y="16.85" font-size="10.2">MI</text><line x1="126.10" y1="27.25" x2="147.80" y2="27.25" stroke="#DD8452" stroke-width="1.3"/><text x="155.30" y="31.25" font-size="10.2">Pearson</text><line x1="126.10" y1="41.65" x2="147.80" y2="41.65" stroke="#55A868" stroke-width="1.3"/><text x="155.30" y="45.65" font-size="10.2">Covariance</text><line x1="126.10" y1="56.05" x2="147.80" y2="56.05" stroke="#C44E52" stroke-width="1.3"/><text x="155.30" y="60.05" font-size="10.2">Marginal probability</text>
<rect x="392.80" y="5.3" width="120.7" height="59.7" rx="2.2" ry="2.2" fill="#fff" stroke="#262626" stroke-width="1.15"/><line x1="396.10" y1="12.85" x2="417.80" y2="12.85" stroke="#4C72B0" stroke-width="1.3"/><text x="425.30" y="16.85" font-size="10.2">MI</text><line x1="396.10" y1="27.25" x2="417.80" y2="27.25" stroke="#DD8452" stroke-width="1.3"/><text x="425.30" y="31.25" font-size="10.2">Pearson</text><line x1="396.10" y1="41.65" x2="417.80" y2="41.65" stroke="#55A868" stroke-width="1.3"/><text x="425.30" y="45.65" font-size="10.2">Covariance</text><line x1="396.10" y1="56.05" x2="417.80" y2="56.05" stroke="#C44E52" stroke-width="1.3"/><text x="425.30" y="60.05" font-size="10.2">Marginal probability</text>
</svg>
</body></html>
